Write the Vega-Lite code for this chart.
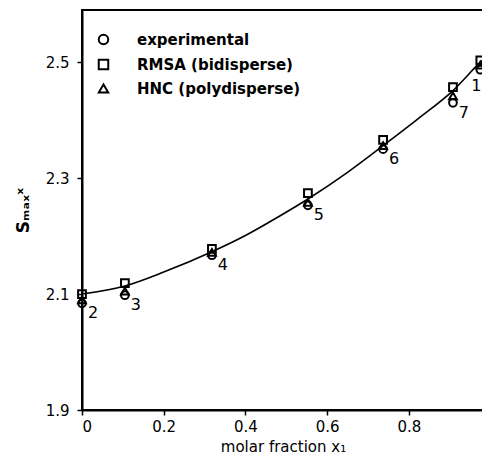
{
  "$schema": "https://vega.github.io/schema/vega-lite/v6.json",
  "autosize": {"type": "none"},
  "padding": {"left": 82, "top": 10, "right": 0, "bottom": 52},
  "width": 402,
  "height": 400,
  "background": "white",
  "config": {
    "view": {"stroke": "black", "strokeWidth": 2},
    "font": "DejaVu Sans",
    "axis": {"domainColor": "black", "tickColor": "black", "labelColor": "black", "titleColor": "black", "grid": false, "domainWidth": 2, "tickWidth": 1.5, "labelFontSize": 15, "titleFontSize": 15, "titleFontWeight": "normal"}
  },
  "datasets": {
    "points": [
      {"pt": "2", "x": 0.0, "series": "experimental", "y": 2.084},
      {"pt": "2", "x": 0.0, "series": "RMSA", "y": 2.100},
      {"pt": "2", "x": 0.0, "series": "HNC", "y": 2.090},
      {"pt": "3", "x": 0.105, "series": "experimental", "y": 2.098},
      {"pt": "3", "x": 0.105, "series": "RMSA", "y": 2.119},
      {"pt": "3", "x": 0.105, "series": "HNC", "y": 2.105},
      {"pt": "4", "x": 0.318, "series": "experimental", "y": 2.167},
      {"pt": "4", "x": 0.318, "series": "RMSA", "y": 2.178},
      {"pt": "4", "x": 0.318, "series": "HNC", "y": 2.172},
      {"pt": "5", "x": 0.553, "series": "experimental", "y": 2.253},
      {"pt": "5", "x": 0.553, "series": "RMSA", "y": 2.274},
      {"pt": "5", "x": 0.553, "series": "HNC", "y": 2.258},
      {"pt": "6", "x": 0.737, "series": "experimental", "y": 2.350},
      {"pt": "6", "x": 0.737, "series": "RMSA", "y": 2.366},
      {"pt": "6", "x": 0.737, "series": "HNC", "y": 2.356},
      {"pt": "7", "x": 0.908, "series": "experimental", "y": 2.430},
      {"pt": "7", "x": 0.908, "series": "RMSA", "y": 2.457},
      {"pt": "7", "x": 0.908, "series": "HNC", "y": 2.442},
      {"pt": "1", "x": 0.975, "series": "experimental", "y": 2.487},
      {"pt": "1", "x": 0.975, "series": "RMSA", "y": 2.503},
      {"pt": "1", "x": 0.975, "series": "HNC", "y": 2.495}
    ],
    "curve": [
      {"x": 0.0, "y": 2.100},
      {"x": 0.105, "y": 2.114},
      {"x": 0.2, "y": 2.138},
      {"x": 0.318, "y": 2.173},
      {"x": 0.4, "y": 2.201},
      {"x": 0.48, "y": 2.233},
      {"x": 0.553, "y": 2.264},
      {"x": 0.65, "y": 2.310},
      {"x": 0.737, "y": 2.356},
      {"x": 0.82, "y": 2.401},
      {"x": 0.908, "y": 2.451},
      {"x": 0.975, "y": 2.500},
      {"x": 0.984, "y": 2.506}
    ]
  },
  "layer": [
    {
      "data": {"name": "curve"},
      "mark": {"type": "line", "interpolate": "monotone", "color": "black", "strokeWidth": 1.6},
      "encoding": {
        "x": {"field": "x", "type": "quantitative", "scale": {"domain": [0, 0.984], "nice": false, "zero": false},
              "axis": {"values": [0, 0.2, 0.4, 0.6, 0.8], "labelExpr": "datum.value == 0 ? '0' : format(datum.value, '.1f')", "title": "molar fraction x\u2081", "tickSize": 5, "labelPadding": 4, "titlePadding": 5}},
        "y": {"field": "y", "type": "quantitative", "scale": {"domain": [1.9, 2.59], "nice": false, "zero": false},
              "axis": {"values": [1.9, 2.1, 2.3, 2.5], "format": ".1f", "title": "S\u2098\u2090\u2093\u02e3", "titleFontSize": 17, "titleFontWeight": "bold", "tickSize": 5, "labelPadding": 8, "titlePadding": 13}}
      }
    },
    {
      "data": {"name": "points"},
      "mark": {"type": "point", "filled": false, "color": "black", "strokeWidth": 2, "size": 60, "opacity": 1},
      "encoding": {
        "x": {"field": "x", "type": "quantitative"},
        "y": {"field": "y", "type": "quantitative"},
        "shape": {"field": "series", "type": "nominal",
                  "scale": {"domain": ["experimental", "RMSA", "HNC"], "range": ["circle", "square", "triangle-up"]},
                  "legend": {"title": null, "orient": "none", "legendX": 14, "legendY": 22, "labelFontSize": 15, "labelFontWeight": "bold", "labelColor": "black", "labelLimit": 400, "symbolStrokeColor": "black", "symbolStrokeWidth": 2, "symbolSize": 90, "rowPadding": 6, "labelOffset": 26, "padding": 0,
                             "labelExpr": "datum.label == 'RMSA' ? 'RMSA (bidisperse)' : datum.label == 'HNC' ? 'HNC (polydisperse)' : datum.label"}}
      }
    },
    {
      "data": {"name": "points"},
      "transform": [{"filter": "datum.series == 'experimental' && datum.pt != '1'"}],
      "mark": {"type": "text", "dx": 11, "dy": 10, "fontSize": 16, "color": "black", "align": "center", "baseline": "middle"},
      "encoding": {
        "x": {"field": "x", "type": "quantitative"},
        "y": {"field": "y", "type": "quantitative"},
        "text": {"field": "pt"}
      }
    },
    {
      "data": {"name": "points"},
      "transform": [{"filter": "datum.series == 'experimental' && datum.pt == '1'"}],
      "mark": {"type": "text", "dx": -4, "dy": 16, "fontSize": 16, "color": "black", "align": "center", "baseline": "middle"},
      "encoding": {
        "x": {"field": "x", "type": "quantitative"},
        "y": {"field": "y", "type": "quantitative"},
        "text": {"field": "pt"}
      }
    }
  ]
}
